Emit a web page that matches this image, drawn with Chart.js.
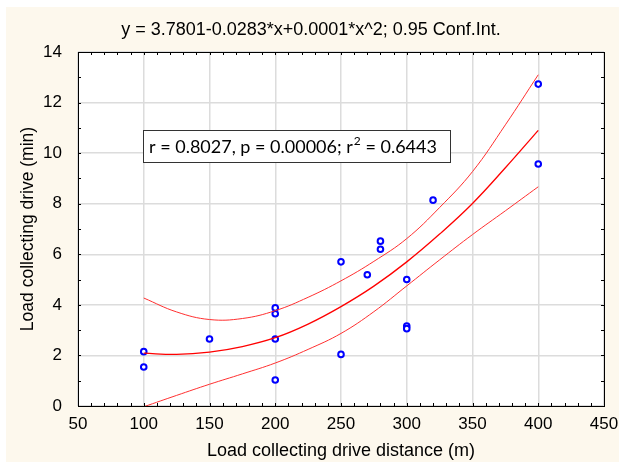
<!DOCTYPE html>
<html>
<head>
<meta charset="utf-8">
<script src="https://cdn.jsdelivr.net/npm/chart.js@4.4.1/dist/chart.umd.min.js"></script>
<style>
  html, body { margin: 0; padding: 0; background: #fff; }
  #wrap { width: 619px; height: 465px; }
</style>
</head>
<body>
<div id="wrap"><canvas id="fitChart" width="619" height="465"></canvas></div>
<script>
// observed data (distance in m, drive time in min)
var distance = [100, 100, 150, 200, 200, 200, 200, 250, 250, 270, 280, 280, 300, 300, 300, 320, 400, 400];
var driveTime = [2.15, 1.54, 2.65, 3.88, 3.65, 2.65, 1.03, 5.70, 2.04, 5.19, 6.52, 6.20, 5.00, 3.16, 3.06, 8.14, 12.73, 9.57];

// fitted curve and 0.95 confidence band
var curveX = [100, 125, 150, 175, 200, 225, 250, 275, 300, 325, 350, 375, 400];
var fitMid = [2.09, 2.04, 2.13, 2.35, 2.70, 3.24, 3.93, 4.74, 5.70, 6.80, 8.01, 9.42, 10.90];
var fitUpper = [4.27, 3.72, 3.42, 3.46, 3.77, 4.30, 4.95, 5.72, 6.62, 7.85, 9.27, 11.12, 13.10];
var fitLower = [-0.03, 0.42, 0.86, 1.27, 1.70, 2.24, 2.87, 3.73, 4.75, 5.78, 6.78, 7.72, 8.67];

var xTicks = [50, 100, 150, 200, 250, 300, 350, 400, 450];
var yTicks = [0, 2, 4, 6, 8, 10, 12, 14];

var titleText = 'y = 3.7801-0.0283*x+0.0001*x^2; 0.95 Conf.Int.';
var statsParts = ['r = 0.8027, p = 0.00006; r', '2', ' = 0.6443'];

function toPoints(xs, ys) {
    return xs.map(function (x, i) { return { x: x, y: ys[i] }; });
}

var frame = {
    id: 'frame',
    beforeDraw: function (chart) {
        var ctx = chart.ctx;
        var a = chart.chartArea;
        ctx.save();
        ctx.fillStyle = '#ffffff';
        ctx.fillRect(0, 0, chart.width, chart.height);
        ctx.fillStyle = '#fdf8ed';
        ctx.fillRect(6, 7, chart.width - 6, 455);
        ctx.fillStyle = '#ffffff';
        ctx.fillRect(a.left, a.top, a.right - a.left, a.bottom - a.top);
        ctx.restore();
    },
    afterDraw: function (chart) {
        var ctx = chart.ctx;
        var a = chart.chartArea;
        var xs = chart.scales.x, ys = chart.scales.y;
        ctx.save();
        // title
        ctx.fillStyle = '#000';
        ctx.font = '18px "Liberation Sans", Arial, sans-serif';
        ctx.textAlign = 'center';
        ctx.textBaseline = 'middle';
        ctx.fillText(titleText, 311, 30);

        // minor ticks on all four sides
        ctx.strokeStyle = '#000';
        ctx.lineWidth = 1;
        ctx.beginPath();
        for (var v = 50; v <= 450; v += 10) {
            var px = Math.round(xs.getPixelForValue(v)) + 0.5;
            ctx.moveTo(px, a.bottom); ctx.lineTo(px, a.bottom - 3);
            ctx.moveTo(px, a.top); ctx.lineTo(px, a.top + 3);
        }
        for (var w = 0; w <= 14; w += 1) {
            var py = Math.round(ys.getPixelForValue(w)) + 0.5;
            ctx.moveTo(a.left, py); ctx.lineTo(a.left + 3, py);
            ctx.moveTo(a.right, py); ctx.lineTo(a.right - 3, py);
        }
        ctx.stroke();
        ctx.strokeRect(Math.round(a.left) + 0.5, Math.round(a.top) + 0.5,
            Math.round(a.right - a.left), Math.round(a.bottom - a.top));

        // statistics box
        var bx = 143, by = 130, bw = 307, bh = 32;
        ctx.fillStyle = '#fff';
        ctx.fillRect(bx, by, bw, bh);
        ctx.strokeStyle = '#333';
        ctx.strokeRect(bx + 0.5, by + 0.5, bw, bh);
        ctx.fillStyle = '#000';
        ctx.textAlign = 'left';
        ctx.textBaseline = 'alphabetic';
        var big = '18px Lato, "Open Sans", sans-serif';
        var small = '12px Lato, "Open Sans", sans-serif';
        var tx = bx + 6, base = by + 23;
        ctx.font = big;
        ctx.fillText(statsParts[0], tx, base);
        tx += ctx.measureText(statsParts[0]).width + 1;
        ctx.font = small;
        ctx.fillText(statsParts[1], tx, base - 8);
        tx += ctx.measureText(statsParts[1]).width;
        ctx.font = big;
        ctx.fillText(statsParts[2], tx, base);
        ctx.restore();
    }
};

var axisFont = '"Liberation Sans", Arial, sans-serif';

var ctx = document.getElementById('fitChart').getContext('2d');
var fitChart = new Chart(ctx, {
    type: 'scatter',
    data: {
        datasets: [{
            label: 'Upper',
            data: toPoints(curveX, fitUpper),
            showLine: true,
            borderColor: '#ff3030',
            borderWidth: 1,
            pointRadius: 0,
            tension: 0.4
        }, {
            label: 'Fit',
            data: toPoints(curveX, fitMid),
            showLine: true,
            borderColor: '#ff0000',
            borderWidth: 1.3,
            pointRadius: 0,
            tension: 0.4
        }, {
            label: 'Lower',
            data: toPoints(curveX, fitLower),
            showLine: true,
            borderColor: '#ff3030',
            borderWidth: 1,
            pointRadius: 0,
            tension: 0.4
        }, {
            label: 'Observed',
            data: toPoints(distance, driveTime),
            showLine: false,
            pointRadius: 2.8,
            pointBorderWidth: 2,
            pointBorderColor: '#0000ff',
            pointBackgroundColor: '#ffffff'
        }]
    },
    options: {
        responsive: false,
        animation: false,
        layout: { padding: { left: 0, top: 52, right: 15, bottom: 0 } },
        plugins: {
            legend: { display: false },
            tooltip: { enabled: false }
        },
        scales: {
            x: {
                type: 'linear',
                min: 50,
                max: 450,
                afterBuildTicks: function (scale) {
                    scale.ticks = xTicks.map(function (v) { return { value: v }; });
                },
                afterFit: function (scale) {
                    scale.height = 59;
                    scale.paddingLeft = 0;
                    scale.paddingRight = 0;
                },
                grid: { color: '#dcdcdc', lineWidth: 1.5, drawTicks: false },
                border: { display: false },
                ticks: {
                    color: '#000',
                    padding: 8,
                    maxRotation: 0,
                    font: { family: axisFont, size: 17 }
                },
                title: {
                    display: true,
                    text: 'Load collecting drive distance (m)',
                    color: '#000',
                    padding: { top: 0, bottom: 3 },
                    font: { family: axisFont, size: 18 }
                }
            },
            y: {
                type: 'linear',
                min: 0,
                max: 14,
                afterBuildTicks: function (scale) {
                    scale.ticks = yTicks.map(function (v) { return { value: v }; });
                },
                afterFit: function (scale) {
                    scale.width = 78;
                    scale.paddingTop = 0;
                    scale.paddingBottom = 0;
                },
                grid: { color: '#dcdcdc', lineWidth: 1.5, drawTicks: false },
                border: { display: false },
                ticks: {
                    color: '#000',
                    padding: 16,
                    font: { family: axisFont, size: 17 }
                },
                title: {
                    display: true,
                    text: 'Load collecting drive (min)',
                    color: '#000',
                    padding: { top: 18, bottom: 0 },
                    font: { family: axisFont, size: 17.5 }
                }
            }
        }
    },
    plugins: [frame]
});
</script>
</body>
</html>
